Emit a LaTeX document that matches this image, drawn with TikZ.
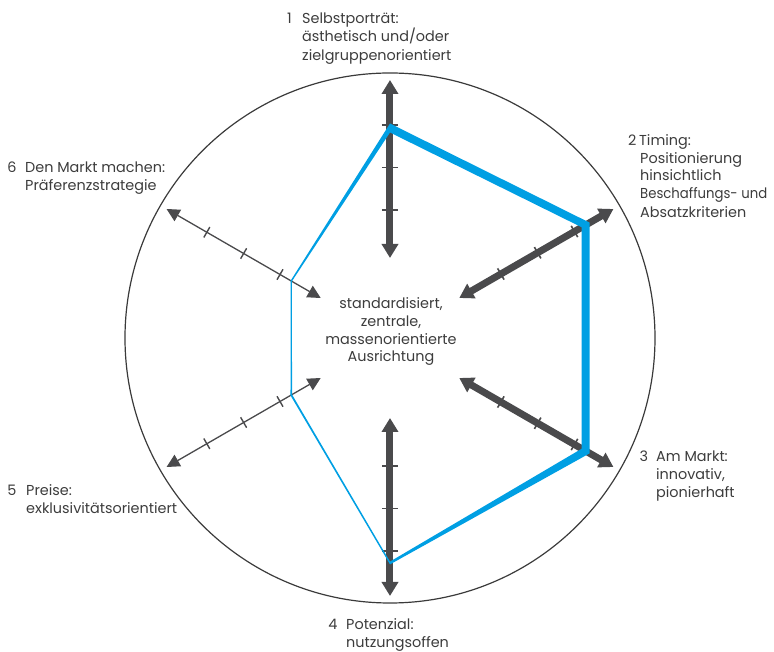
\documentclass[tikz,border=0pt]{standalone}
\usepackage{fontspec}
\usepackage{graphicx}
\setmainfont{Poppins}
\usetikzlibrary{arrows.meta}

\definecolor{axisgrey}{HTML}{4A4A4C}
\definecolor{txtgrey}{HTML}{3C3C3C}
\definecolor{ringgrey}{HTML}{3A3A3A}
\definecolor{profileblue}{HTML}{009FE3}

\tikzset{
  lbl/.style={anchor=base west, inner sep=0pt, text=txtgrey,
    font=\fontsize{14.4}{18}\selectfont},
  num/.style={lbl, anchor=base east},
  mid/.style={anchor=base, inner sep=0pt, text=txtgrey,
    font=\fontsize{14.4}{18}\selectfont},
  ring/.style={draw=ringgrey, line width=1.2pt},
  heavyaxis/.style={draw=axisgrey, line width=7pt,
    {Triangle[width=16pt,length=14pt]}-{Triangle[width=16pt,length=14pt]}},
  lightaxis/.style={draw=axisgrey, line width=1.3pt,
    {Triangle[width=13pt,length=13pt]}-{Triangle[width=13pt,length=13pt]}},
  heavytick/.style={draw=axisgrey, line width=1.6pt},
  lighttick/.style={draw=axisgrey, line width=1.4pt},
}

\begin{document}
\begin{tikzpicture}[x=1pt, y=1pt]
\useasboundingbox (-390,-314) rectangle (384,338);

% outer circle
\coordinate (C) at (0,0);
\draw[ring] (C) circle (265);

% axis end points: inner (i) and outer (o)
\foreach \n/\a in {1/90, 2/30, 3/-30, 4/-90, 5/-150, 6/150} {
  \coordinate (a\n i) at (\a:80);
  \coordinate (a\n o) at (\a:258);
}

% heavy axes 1-4 with tick marks
\foreach \n/\a/\L in {1/90/16, 2/30/13, 3/-30/13, 4/-90/16} {
  \draw[heavyaxis] (a\n i) -- (a\n o);
  \foreach \r in {128, 170.5, 213}
    \draw[heavytick] ([shift={(\a+90:\L/2)}]\a:\r) -- ([shift={(\a-90:\L/2)}]\a:\r);
}

% light axes 5-6 with tick marks
\foreach \n/\a in {5/-150, 6/150} {
  \draw[lightaxis] (a\n i) -- (a\n o);
  \foreach \r in {127, 169, 211.5}
    \draw[lighttick] ([shift={(\a+90:6)}]\a:\r) -- ([shift={(\a-90:6)}]\a:\r);
}

% profile: band between outer and inner hexagon, varying stroke weight
\fill[profileblue, even odd rule]
  (90:214.5) -- (30:230.6) -- (-30:230.6) -- (-90:226.4) -- (-150:114.9) -- (150:114.7) -- cycle
  (90:205.5) -- (30:221.4) -- (-30:221.4) -- (-90:223.6) -- (-150:113.1) -- (150:113.3) -- cycle;

% centre text
\node[mid] (c1) at (1,29)     {standardisiert,};
\node[mid] (c2) at (1,11.5)   {zentrale,};
\node[mid] (c3) at (1,-6.8)   {massenorientierte};
\node[mid] (c4) at (1,-24)    {Ausrichtung};

% label 1
\node[num] (n1)  at (-98,314.7) {1};
\node[lbl] (t1a) at (-88,314.7)  {Selbstporträt:};
\node[lbl] (t1b) at (-88,296.2)  {ästhetisch und/oder};
\node[lbl] (t1c) at (-88,277.6)  {zielgruppenorientiert};

% label 2
\node[num] (n2)  at (246.5,192) {2};
\node[lbl] (t2a) at (249,192)   {Timing:};
\node[lbl] (t2b) at (250,174.5) {Positionierung};
\node[lbl] (t2c) at (250,157)   {hinsichtlich};
\node[lbl] (t2d) at (250,139)   {\scalebox{0.92}[1]{Beschaffungs- und}};
\node[lbl] (t2e) at (250,120.8) {Absatzkriterien};

% label 3
\node[num] (n3)  at (258.3,-123.7) {3};
\node[lbl] (t3a) at (266,-123.7) {Am Markt:};
\node[lbl] (t3b) at (266,-142)   {innovativ,};
\node[lbl] (t3c) at (266,-159.7) {pionierhaft};

% label 4
\node[num] (n4)  at (-52.3,-292)  {4};
\node[lbl] (t4a) at (-44,-292)    {Potenzial:};
\node[lbl] (t4b) at (-44,-309.7)  {nutzungsoffen};

% label 5
\node[num] (n5)  at (-373.3,-157.7) {5};
\node[lbl] (t5a) at (-364,-157.7) {Preise:};
\node[lbl] (t5b) at (-364,-176)   {exklusivitätsorientiert};

% label 6
\node[num] (n6)  at (-373.3,165.3) {6};
\node[lbl] (t6a) at (-365,165.3) {Den Markt machen:};
\node[lbl] (t6b) at (-365,147)   {Präferenzstrategie};
\end{tikzpicture}
\end{document}
